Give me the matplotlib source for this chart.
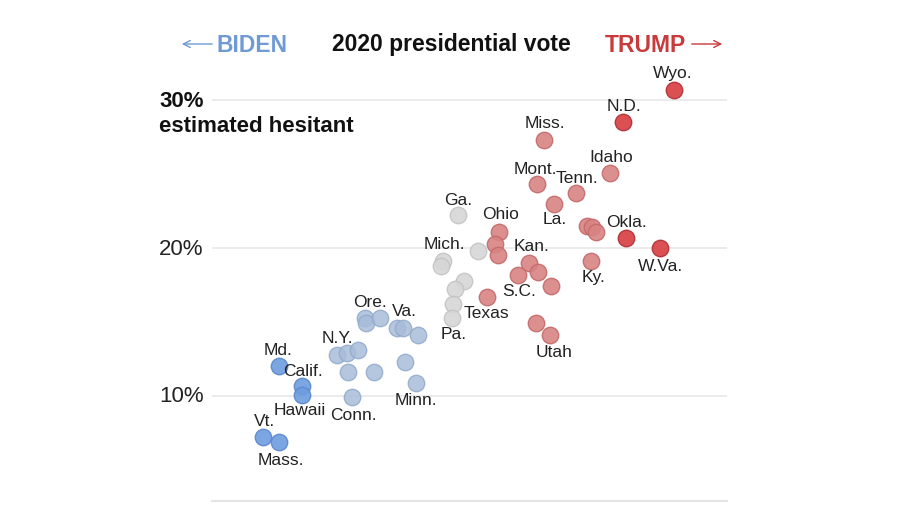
import matplotlib
matplotlib.use("Agg")
import matplotlib.pyplot as plt
import matplotlib.transforms as mtransforms
from matplotlib.patches import FancyArrowPatch

# x: 2020 Trump margin (pct points), y: estimated vaccine-hesitant share (%)
strong_red_x = [43.3, 33.5, 34.1, 40.6]
strong_red_y = [30.7, 28.5, 20.7, 20.0]

red_x = [18.4, 31.0, 17.0, 24.5, 20.3, 26.6, 27.6, 28.4, 27.4,
         9.8, 9.0, 9.6, 15.5, 13.4, 17.2, 19.7, 7.5, 16.9, 19.5]
red_y = [27.3, 25.1, 24.3, 23.7, 23.0, 21.5, 21.4, 21.1, 19.1,
         21.1, 20.3, 19.5, 19.0, 18.2, 18.4, 17.4, 16.7, 14.9, 14.1]

gray_x = [1.9, 5.7, -1.0, -1.3, 3.1, 1.3, 1.0, 0.8]
gray_y = [22.2, 19.8, 19.1, 18.8, 17.8, 17.2, 16.2, 15.3]

blue_x = [-15.9, -15.7, -13.0, -9.8, -8.6, -5.7, -21.3, -19.3, -17.2,
          -19.2, -14.2, -8.2, -6.1, -18.4]
blue_y = [15.3, 14.9, 15.3, 14.6, 14.6, 14.1, 12.8, 12.9, 13.1,
          11.6, 11.6, 12.3, 10.9, 9.9]

strong_blue_x = [-32.4, -28.0, -28.0, -35.4, -32.4]
strong_blue_y = [12.0, 10.7, 10.1, 7.2, 6.9]

# labels: name, x, y, offset (pixels), alignment
labels = [
    ("Wyo.", 43.3, 30.7, (-1, 17), "center"),
    ("N.D.", 33.5, 28.5, (1, 17), "center"),
    ("Miss.", 18.4, 27.3, (1, 17), "center"),
    ("Idaho", 31.0, 25.1, (1, 16), "center"),
    ("Mont.", 17.0, 24.3, (-1, 16), "center"),
    ("Tenn.", 24.5, 23.7, (1, 16), "center"),
    ("La.", 20.3, 23.0, (1, -15), "center"),
    ("Okla.", 34.1, 20.7, (1, 16), "center"),
    ("W.Va.", 40.6, 20.0, (1, -17), "center"),
    ("Ky.", 27.4, 19.1, (3, -15), "center"),
    ("Ohio", 9.8, 21.1, (1, 18), "center"),
    ("Kan.", 15.5, 19.0, (3, 17), "center"),
    ("S.C.", 13.4, 18.2, (1, -16), "center"),
    ("Texas", 7.5, 16.7, (-1, -16), "center"),
    ("Utah", 19.5, 14.1, (4, -16), "center"),
    ("Ga.", 1.9, 22.2, (0, 16), "center"),
    ("Mich.", 5.7, 19.8, (-12, 7), "right"),
    ("Pa.", 0.8, 15.3, (2, -16), "center"),
    ("Ore.", -15.9, 15.3, (5, 16), "center"),
    ("Va.", -8.6, 14.6, (1, 17), "center"),
    ("N.Y.", -21.3, 12.8, (1, 17), "center"),
    ("Minn.", -6.1, 10.9, (0, -17), "center"),
    ("Conn.", -18.4, 9.9, (1, -17), "center"),
    ("Md.", -32.4, 12.0, (-1, 17), "center"),
    ("Calif.", -28.0, 10.7, (1, 15), "center"),
    ("Hawaii", -28.0, 10.1, (-2, -15), "center"),
    ("Vt.", -35.4, 7.2, (1, 17), "center"),
    ("Mass.", -32.4, 6.9, (2, -18), "center"),
]

plt.rcParams["font.family"] = ["Liberation Sans", "DejaVu Sans"]

fig = plt.figure(figsize=(9, 5.06), dpi=100)
ax = fig.add_axes([212 / 900, 1 - 502 / 506, 515 / 900, 422 / 506])
ax.set_xlim(-45.21, 53.45)
ax.set_ylim(2.905, 31.42)
ax.axis("off")

for g in [10, 20, 30]:
    ax.axhline(g, color="#e8e8e8", lw=1.2, zorder=0)
ax.axhline(2.905, color="#e4e4e4", lw=1.5, zorder=0, clip_on=False)

s = 140
ax.scatter(gray_x, gray_y, s=s, color="#d6d6d6", edgecolor="#c4c4c4", lw=1, alpha=0.9, zorder=2)
ax.scatter(blue_x, blue_y, s=s, color="#a8bcda", edgecolor="#93aacc", lw=1, alpha=0.85, zorder=2)
ax.scatter(strong_blue_x, strong_blue_y, s=s, color="#6e9ddf", edgecolor="#5a88cc", lw=1, alpha=0.9, zorder=3)
ax.scatter(red_x, red_y, s=s, color="#d98383", edgecolor="#c46a6a", lw=1, alpha=0.9, zorder=2)
ax.scatter(strong_red_x, strong_red_y, s=s, color="#d9474a", edgecolor="#b3333a", lw=1, alpha=0.95, zorder=3)

for name, x, y, off, ha in labels:
    ax.annotate(name, (x, y), xytext=off, textcoords="offset pixels",
                ha=ha, va="center", fontsize=12.5, color="#222222", zorder=5)

# y labels
tr = mtransforms.blended_transform_factory(fig.transFigure, ax.transData)
ax.text(159 / 900, 30, "30%", transform=tr, ha="left", va="center",
        fontsize=16, fontweight="bold", color="#111111")
ax.text(159 / 900, 28.3, "estimated hesitant", transform=tr, ha="left", va="center",
        fontsize=16, fontweight="bold", color="#111111")
for v in [20, 10]:
    ax.text(159 / 900, v, f"{v}%", transform=tr, ha="left", va="center",
            fontsize=16, color="#222222")

# header
hy = 1 - 45 / 506
fig.text(451 / 900, hy, "2020 presidential vote", ha="center", va="center",
         fontsize=16.5, fontweight="bold", color="#111111")
fig.text(287 / 900, hy, "BIDEN", ha="right", va="center",
         fontsize=16.5, fontweight="bold", color="#6f9ad6")
fig.text(605 / 900, hy, "TRUMP", ha="left", va="center",
         fontsize=16.5, fontweight="bold", color="#c93a3a")
fig.add_artist(FancyArrowPatch(
    (215 / 900, hy), (179 / 900, hy), transform=fig.transFigure,
    arrowstyle="->,head_length=5,head_width=2.5", mutation_scale=1,
    color="#6f9ad6", lw=1))
fig.add_artist(FancyArrowPatch(
    (689 / 900, hy), (725 / 900, hy), transform=fig.transFigure,
    arrowstyle="->,head_length=5,head_width=2.5", mutation_scale=1,
    color="#c93a3a", lw=1))

fig.savefig("out.png", dpi=100)
